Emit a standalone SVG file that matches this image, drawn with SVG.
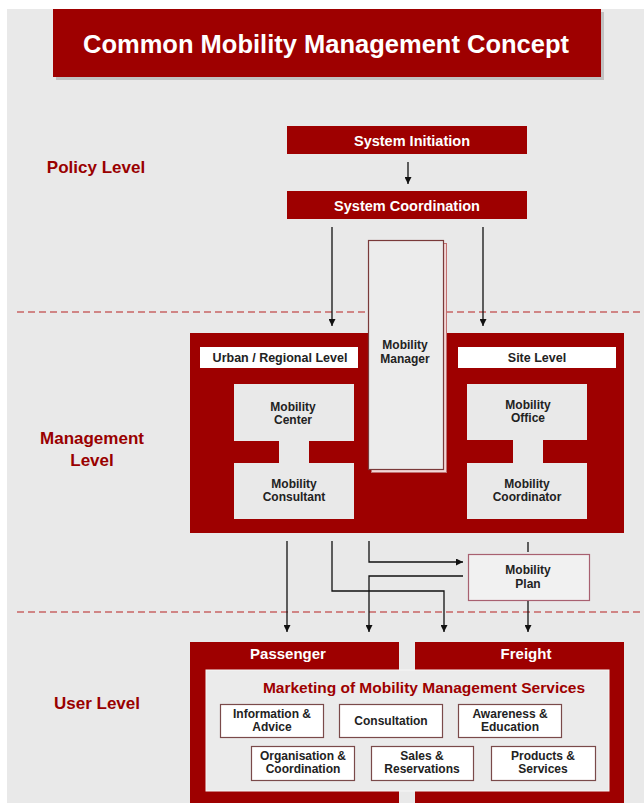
<svg xmlns="http://www.w3.org/2000/svg" width="644" height="803" viewBox="0 0 644 803">
<defs>
<style>
text{font-family:"Liberation Sans",Arial,sans-serif;font-weight:bold;text-anchor:middle}
.red{fill:#9e0000}
.wt{fill:#ffffff}
.lvl{fill:#990000;font-size:17px}
.inner{fill:#e9e9e9}
.dk{fill:#222222;font-size:12px}
.svc{fill:#ffffff;stroke:#7a4a4a;stroke-width:1.2}
.dash{stroke:#c86464;stroke-width:1.3;stroke-dasharray:7 4;fill:none}
.ln{stroke:#111;stroke-width:1.3;fill:none}
</style>
<marker id="ah" viewBox="0 0 10 10" refX="10" refY="5" markerWidth="7" markerHeight="7" markerUnits="userSpaceOnUse" orient="auto">
<path d="M0,0 L10,5 L0,10 z" fill="#111"/>
</marker>
</defs>
<rect x="0" y="0" width="644" height="803" fill="#ffffff"/>
<rect x="7" y="9" width="637" height="794" fill="#e9e9e9"/>

<g id="dividers">
<line class="dash" x1="17" y1="312" x2="644" y2="312"/>
<line class="dash" x1="17" y1="612" x2="644" y2="612"/>
</g>

<g id="title">
<rect x="56" y="12" width="548" height="68" fill="#999" opacity="0.5"/>
<rect class="red" x="53" y="9" width="548" height="68"/>
<text x="326" y="53" class="wt" font-size="25.5">Common Mobility Management Concept</text>
</g>

<g id="levels">
<text class="lvl" x="96" y="173">Policy Level</text>
<text class="lvl" x="92" y="444">Management</text>
<text class="lvl" x="92" y="466">Level</text>
<text class="lvl" x="97" y="709">User Level</text>
</g>

<g id="system-initiation">
<rect class="red" x="287" y="126" width="240" height="28"/>
<text class="wt" x="412" y="146" font-size="14.5">System Initiation</text>
</g>
<g id="system-coordination">
<rect class="red" x="287" y="191" width="240" height="28"/>
<text class="wt" x="407" y="211" font-size="14.5">System Coordination</text>
</g>

<g id="management-level">
<rect class="red" x="190" y="333" width="434" height="200"/>
</g>
<g id="urban-regional-level">
<rect x="200" y="347" width="158" height="21" fill="#ffffff"/>
<text x="280" y="362" font-size="12.5" fill="#222">Urban / Regional Level</text>
</g>
<g id="site-level">
<rect x="458" y="347" width="158" height="21" fill="#ffffff"/>
<text x="537" y="362" font-size="12.5" fill="#222">Site Level</text>
</g>
<g id="mobility-center">
<rect class="inner" x="234" y="384" width="120" height="57"/>
<rect class="inner" x="279" y="440" width="30" height="24"/>
<text class="dk" x="293" y="411">Mobility</text>
<text class="dk" x="293" y="424">Center</text>
</g>
<g id="mobility-consultant">
<rect class="inner" x="234" y="463" width="120" height="56"/>
<text class="dk" x="294" y="488">Mobility</text>
<text class="dk" x="294" y="501">Consultant</text>
</g>
<g id="mobility-office">
<rect class="inner" x="467" y="384" width="120" height="56"/>
<rect class="inner" x="513" y="439" width="30" height="25"/>
<text class="dk" x="528" y="409">Mobility</text>
<text class="dk" x="528" y="422">Office</text>
</g>
<g id="mobility-coordinator">
<rect class="inner" x="467" y="463" width="120" height="56"/>
<text class="dk" x="527" y="488">Mobility</text>
<text class="dk" x="527" y="501">Coordinator</text>
</g>
<g id="mobility-manager">
<rect x="371.5" y="243.5" width="75" height="229" fill="#f2d6d6" stroke="#c07070" stroke-width="1"/>
<rect x="368.5" y="240.5" width="75" height="229" fill="#ececec" stroke="#7a3a3a" stroke-width="1.2"/>
<text class="dk" x="405" y="349" font-size="11.5">Mobility</text>
<text class="dk" x="405" y="363" font-size="11.5">Manager</text>
</g>

<g id="mobility-plan">
<rect x="468.5" y="554.5" width="121" height="46" fill="#f1f1f1" stroke="#a86070" stroke-width="1.2"/>
<text class="dk" x="528" y="574">Mobility</text>
<text class="dk" x="528" y="588">Plan</text>
</g>

<g id="passenger">
<rect class="red" x="190" y="642" width="209" height="170"/>
<text class="wt" x="288" y="659" font-size="15">Passenger</text>
</g>
<g id="freight">
<rect class="red" x="415" y="642" width="209" height="170"/>
<text class="wt" x="526" y="659" font-size="15">Freight</text>
</g>
<g id="marketing">
<rect x="206" y="670" width="403" height="121" fill="#ebebeb" stroke="#f7f7f7" stroke-width="1"/>
<text x="424" y="693" font-size="15.5" fill="#9e0000">Marketing of Mobility Management Services</text>
</g>
<g id="information-advice">
<rect class="svc" x="220.5" y="704.5" width="103" height="33"/>
<text class="dk" x="272" y="718">Information &amp;</text>
<text class="dk" x="272" y="731">Advice</text>
</g>
<g id="consultation">
<rect class="svc" x="339.5" y="704.5" width="103" height="33"/>
<text class="dk" x="391" y="725">Consultation</text>
</g>
<g id="awareness-education">
<rect class="svc" x="458.5" y="704.5" width="103" height="33"/>
<text class="dk" x="510" y="718">Awareness &amp;</text>
<text class="dk" x="510" y="731">Education</text>
</g>
<g id="organisation-coordination">
<rect class="svc" x="251.5" y="746.5" width="103" height="34"/>
<text class="dk" x="303" y="760">Organisation &amp;</text>
<text class="dk" x="303" y="773">Coordination</text>
</g>
<g id="sales-reservations">
<rect class="svc" x="371.5" y="746.5" width="102" height="34"/>
<text class="dk" x="422" y="760">Sales &amp;</text>
<text class="dk" x="422" y="773">Reservations</text>
</g>
<g id="products-services">
<rect class="svc" x="491.5" y="746.5" width="104" height="34"/>
<text class="dk" x="543" y="760">Products &amp;</text>
<text class="dk" x="543" y="773">Services</text>
</g>

<g id="connectors">
<line class="ln" x1="408" y1="162" x2="408" y2="184" marker-end="url(#ah)"/>
<line class="ln" x1="332" y1="227" x2="332" y2="326" marker-end="url(#ah)"/>
<line class="ln" x1="483" y1="227" x2="483" y2="326" marker-end="url(#ah)"/>
<line class="ln" x1="287" y1="541" x2="287" y2="632" marker-end="url(#ah)"/>
<polyline class="ln" points="332,541 332,591 444,591 444,632" marker-end="url(#ah)"/>
<polyline class="ln" points="369,541 369,562 463,562" marker-end="url(#ah)"/>
<polyline class="ln" points="463,576 369,576 369,632" marker-end="url(#ah)"/>
<line class="ln" x1="528" y1="542" x2="528" y2="552"/>
<line class="ln" x1="528" y1="601" x2="528" y2="632" marker-end="url(#ah)"/>
</g>
</svg>
